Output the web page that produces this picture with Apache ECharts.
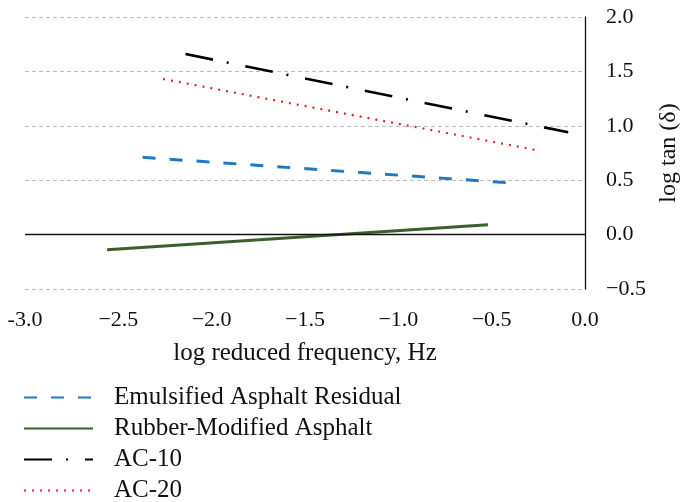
<!DOCTYPE html>
<html>
<head>
<meta charset="utf-8">
<script src="https://cdn.jsdelivr.net/npm/echarts@6/dist/echarts.min.js"></script>
<style>
  html, body { margin: 0; padding: 0; background: #fff; }
  #chart { width: 682px; height: 502px; }
</style>
</head>
<body>
<div id="chart"></div>
<script>
// data (x = log reduced frequency, y = log tan δ)
const seriesNames = ['Emulsified Asphalt Residual', 'Rubber-Modified Asphalt', 'AC-10', 'AC-20']
const emulsifiedX = [-2.37, -0.36]
const emulsifiedY = [0.71, 0.47]
const rubberX = [-2.56, -0.52]
const rubberY = [-0.14, 0.09]
const ac10X = [-2.14, -0.09]
const ac10Y = [1.66, 0.94]
const ac20X = [-2.26, -0.24]
const ac20Y = [1.43, 0.77]
const xTicks = [-3, -2.5, -2, -1.5, -1, -0.5, 0]
const yTicks = [-0.5, 0, 0.5, 1, 1.5, 2]

const FONT = 'Liberation Serif'

const pairs = (xs, ys) => xs.map((x, i) => [x, ys[i]])

// format a tick like the source: "-3.0" keeps a hyphen, the rest use a minus sign
const fmtX = (v) => {
  if (v === -3) return '-3.0'
  return v < 0 ? '\u2212' + Math.abs(v).toFixed(1) : v.toFixed(1)
}
const fmtY = (v) => (v < 0 ? '\u2212' + Math.abs(v).toFixed(1) : v.toFixed(1))

const chart = echarts.init(document.getElementById('chart'))

const option = {
  animation: false,
  backgroundColor: '#fff',
  grid: { left: 25, right: 97, top: 17, bottom: 213, outerBoundsMode: 'none' },
  legend: {
    orient: 'vertical',
    left: 23,
    top: 385,
    height: 160,
    padding: 0,
    itemWidth: 69,
    itemHeight: 14,
    itemGap: 6,
    data: seriesNames,
    itemStyle: { opacity: 0 },
    textStyle: { fontFamily: FONT, fontSize: 25, color: '#111', padding: [0, 0, 0, 16] }
  },
  xAxis: {
    type: 'value',
    min: xTicks[0],
    max: xTicks[xTicks.length - 1],
    interval: 0.5,
    name: 'log reduced frequency, Hz',
    nameLocation: 'middle',
    nameGap: 52,
    nameTextStyle: { fontFamily: FONT, fontSize: 25, color: '#111' },
    axisLine: { show: false },
    axisTick: { show: false },
    splitLine: { show: false },
    axisLabel: { margin: 20, fontFamily: FONT, fontSize: 22, color: '#111', formatter: fmtX }
  },
  yAxis: {
    type: 'value',
    position: 'right',
    min: yTicks[0],
    max: yTicks[yTicks.length - 1],
    interval: 0.5,
    name: 'log tan (\u03b4)',
    nameLocation: 'middle',
    nameGap: 72,
    nameTextStyle: { fontFamily: FONT, fontSize: 24, color: '#111' },
    axisLine: { show: true, lineStyle: { color: '#111', width: 1.3 } },
    axisTick: { show: false },
    axisLabel: { margin: 21, fontFamily: FONT, fontSize: 22, color: '#111', formatter: fmtY },
    splitLine: { show: true, lineStyle: { color: '#bdbdbd', type: [4, 3], width: 1.2 } }
  },
  series: [
    {
      name: seriesNames[0],
      type: 'line',
      symbol: 'none',
      data: pairs(emulsifiedX, emulsifiedY),
      lineStyle: { color: '#1f79c6', width: 3, type: [13, 14] },
      itemStyle: { color: '#1f79c6' }
    },
    {
      name: seriesNames[1],
      type: 'line',
      symbol: 'none',
      data: pairs(rubberX, rubberY),
      lineStyle: { color: '#3b5e2b', width: 3 },
      itemStyle: { color: '#3b5e2b' },
      // solid zero line across the plot
      markLine: {
        silent: true,
        symbol: 'none',
        label: { show: false },
        lineStyle: { color: '#111', width: 1.3, type: 'solid' },
        data: [{ yAxis: 0 }]
      },
      z: 3
    },
    {
      name: seriesNames[2],
      type: 'line',
      symbol: 'none',
      data: pairs(ac10X, ac10Y),
      lineStyle: { color: '#000', width: 2.6, type: [28, 14, 2, 17] },
      itemStyle: { color: '#000' }
    },
    {
      name: seriesNames[3],
      type: 'line',
      symbol: 'none',
      data: pairs(ac20X, ac20Y),
      lineStyle: { color: '#e0262c', width: 2.2, type: [2, 6] },
      itemStyle: { color: '#e0262c' }
    }
  ]
}

chart.setOption(option)
window.addEventListener('resize', () => chart.resize())
</script>
</body>
</html>
